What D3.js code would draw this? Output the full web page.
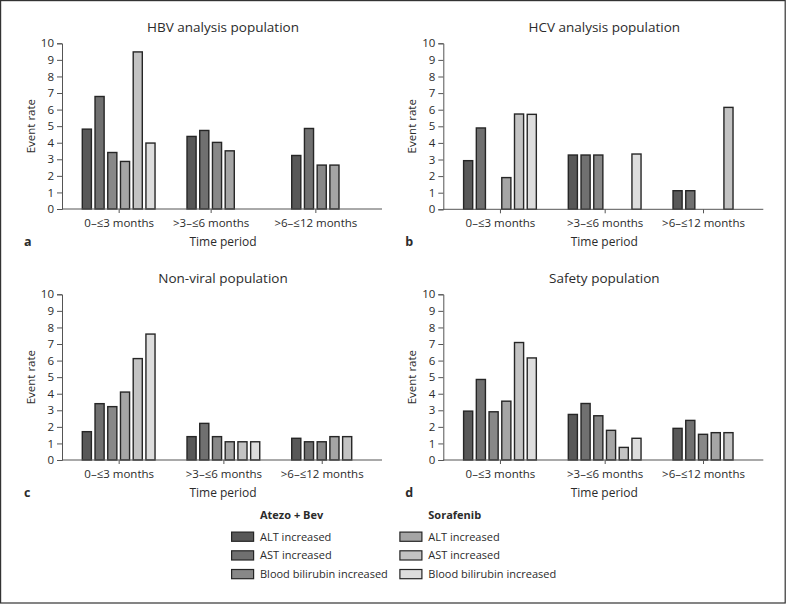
<!DOCTYPE html>
<html><head><meta charset="utf-8">
<script src="https://cdn.jsdelivr.net/npm/d3@7"></script>
<style>
html,body{margin:0;padding:0;background:#fff;}
svg{display:block;}
text{font-family:"Open Sans",sans-serif;fill:#2b2b2b;}
</style></head>
<body>
<svg id="chart" width="787" height="604"></svg>
<script>
// ---------- data ----------
const categories = ["0\u2013\u22643 months", ">3\u2013\u22646 months", ">6\u2013\u226412 months"];
const seriesNames = ["ALT increased", "AST increased", "Blood bilirubin increased"];
const treatments = ["Atezo + Bev", "Sorafenib"];
const yTickValues = [0,1,2,3,4,5,6,7,8,9,10];
const panelTitles = ["HBV analysis population", "HCV analysis population", "Non-viral population", "Safety population"];
const panelLetters = ["a", "b", "c", "d"];
// series order: ALT (Atezo), AST (Atezo), Bilirubin (Atezo), ALT (Sorafenib), AST (Sorafenib), Bilirubin (Sorafenib)
// null = no bar slot, 0 = empty slot
const hbvValues = [
  [4.82, 4.38, 3.23],
  [6.79, 4.74, 4.86],
  [3.41, 4.02, 2.65],
  [2.87, 3.51, 2.65],
  [9.48, null, null],
  [3.98, null, null]
];
const hcvValues = [
  [2.93, 3.27, 1.12],
  [4.90, 3.27, 1.12],
  [0,    3.27, 0],
  [1.91, 0,    0],
  [5.74, 0,    6.14],
  [5.72, 3.33, null]
];
const nonViralValues = [
  [1.71, 1.41, 1.31],
  [3.40, 2.21, 1.10],
  [3.22, 1.41, 1.10],
  [4.10, 1.10, 1.41],
  [6.12, 1.10, 1.41],
  [7.60, 1.10, null]
];
const safetyValues = [
  [2.95, 2.75, 1.91],
  [4.86, 3.41, 2.39],
  [2.91, 2.67, 1.55],
  [3.55, 1.79, 1.65],
  [7.09, 0.76, 1.65],
  [6.16, 1.31, null]
];
const panelValues = [hbvValues, hcvValues, nonViralValues, safetyValues];
const seriesColors = ["#585858", "#707070", "#888888", "#a5a5a5", "#c3c3c3", "#dddddd"];

// ---------- layout ----------
const svg = d3.select("#chart");
svg.append("rect").attr("x",0.6).attr("y",0.6).attr("width",784.6).attr("height",602.4)
  .attr("fill","none").attr("stroke","#333").attr("stroke-width",1.2);

const panelOrigins = [ {x:62, y0:209, yTop:43.3}, {x:443.3, y0:209.3, yTop:43.3},
                       {x:62, y0:460, yTop:294.3}, {x:443.3, y0:460, yTop:294.3} ];
const axisLen = 320;

const xGroup = d3.scaleBand().domain(categories).range([19.6, 303.15]).paddingInner(0.292).paddingOuter(0);
const slotIdx = d3.range(6);
const xSlot = d3.scaleBand().domain(slotIdx).range([0, xGroup.bandwidth()]).paddingInner(0.175).paddingOuter(0);

panelValues.forEach((vals, p) => {
  const o = panelOrigins[p];
  const g = svg.append("g").attr("transform", `translate(${o.x},0)`);
  const y = d3.scaleLinear().domain([0,10]).range([o.y0, o.yTop]);

  // bars
  categories.forEach((cat, ci) => {
    const gx = xGroup(cat);
    vals.forEach((s, si) => {
      const v = s[ci];
      if (v === null || v === 0) return;
      g.append("rect")
        .attr("x", gx + xSlot(si) + 0.7)
        .attr("y", y(v))
        .attr("width", xSlot.bandwidth() - 1.4)
        .attr("height", y(0) - y(v))
        .attr("fill", seriesColors[si])
        .attr("stroke", "#262626").attr("stroke-width", 1.4);
    });
  });

  // y axis
  const yAxis = d3.axisLeft(y).tickValues(yTickValues).tickSize(5).tickPadding(3).tickFormat(d3.format("d"));
  const ya = g.append("g").call(yAxis);
  ya.select(".domain").attr("stroke","#555").attr("stroke-width",1);
  ya.selectAll(".tick line").attr("stroke","#555");
  ya.selectAll("text").attr("font-family","Open Sans").attr("font-size",11.5).attr("fill","#2b2b2b");

  // x axis (ticks at the centre of each group's bar slots)
  const tickPos = categories.map((cat, ci) => {
    const n = vals.filter(s => s[ci] !== null).length;
    return xGroup(cat) + (xSlot(n-1) + xSlot.bandwidth()) / 2;
  });
  const xTickScale = d3.scaleOrdinal().domain(categories).range(tickPos);
  const xa = g.append("g").attr("transform", `translate(0,${o.y0})`)
    .call(d3.axisBottom(xTickScale).tickSize(4).tickPadding(6));
  xa.select(".domain").remove();
  xa.append("line").attr("x1",0).attr("x2",axisLen).attr("stroke","#555").attr("stroke-width",1);
  xa.selectAll(".tick line").attr("stroke","#555");
  xa.selectAll(".tick text").attr("font-family","Open Sans").attr("font-size",11.5).attr("fill","#2b2b2b");

  // titles
  g.append("text").attr("x", 161).attr("y", o.yTop - 11).attr("text-anchor","middle")
    .attr("font-size", 13.5).text(panelTitles[p]);
  g.append("text").attr("transform", `translate(-30,${(o.y0+o.yTop)/2}) rotate(-90)`)
    .attr("text-anchor","middle").attr("dominant-baseline","middle").attr("font-size", 11.5).text("Event rate");
  g.append("text").attr("x", 161).attr("y", o.y0 + 37).attr("text-anchor","middle")
    .attr("font-size", 12).text("Time period");
  g.append("text").attr("x", -38).attr("y", o.y0 + 37).attr("font-size", 12.5).attr("font-weight","bold")
    .text(panelLetters[p]);
});

// ---------- legend ----------
const legend = svg.append("g");
treatments.forEach((t, ti) => {
  const lx = ti === 0 ? 231 : 399.3;
  legend.append("text").attr("x", lx + 29).attr("y", 519).attr("font-size", 11).attr("font-weight","bold").text(t);
  seriesNames.forEach((sn, si) => {
    const cy = 536.7 + si * 18.7;
    legend.append("rect").attr("x", lx + 0.6).attr("y", cy - 4.6).attr("width", 22).attr("height", 9.2)
      .attr("fill", seriesColors[ti*3 + si]).attr("stroke","#262626").attr("stroke-width",1.2);
    legend.append("text").attr("x", lx + 29).attr("y", cy + 4).attr("font-size", 11).text(sn);
  });
});
</script>
</body></html>
